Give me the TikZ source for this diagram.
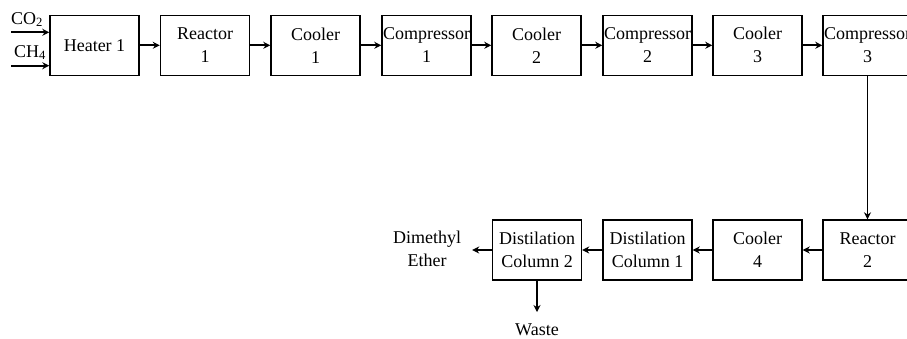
\documentclass[tikz,border=0pt]{standalone}
\usepackage{fontspec}
\setmainfont{Liberation Serif}
\usetikzlibrary{arrows.meta}
\begin{document}
\begin{tikzpicture}[x=1pt,y=-1pt,
  unit/.style={draw, line width=1.4pt, minimum width=89pt, minimum height=60pt,
    inner sep=0pt, align=center, font=\fontsize{18}{23}\selectfont},
  flow/.style={line width=1.8pt, -{Stealth[length=7pt,width=7pt]}},
  lbl/.style={inner sep=0pt, align=center, font=\fontsize{18}{23}\selectfont}]
\useasboundingbox (0,0) rectangle (907,338);

% upstream train
\node[unit] (heater)   at (94.5,45.3)  {Heater 1};
\node[unit] (reactor1) at (205,45.3)   {Reactor\\1};
\node[unit] (cooler1)  at (315.5,45.3) {Cooler\\1};
\node[unit] (comp1)    at (426.5,45.3) {Compressor\\1};
\node[unit] (cooler2)  at (536.5,45.3) {Cooler\\2};
\node[unit] (comp2)    at (647.5,45.3) {Compressor\\2};
\node[unit] (cooler3)  at (757.5,45.3) {Cooler\\3};
\node[unit] (comp3)    at (867.5,45.3) {Compressor\\3};

% downstream train
\node[unit] (reactor2) at (867.5,250) {Reactor\\2};
\node[unit] (cooler4)  at (757.5,250) {Cooler\\4};
\node[unit] (dist1)    at (647.5,250) {Distilation\\Column 1};
\node[unit] (dist2)    at (537,250)   {Distilation\\Column 2};

% feeds and products
\node[lbl, anchor=base west] (co2) at (11,24) {CO\textsubscript{2}};
\node[lbl, anchor=base west] (ch4) at (14,57) {CH\textsubscript{4}};
\coordinate (co2src) at (11,32.3);
\coordinate (ch4src) at (11,65.7);
\node[lbl, inner xsep=11pt] (dme) at (427,249) {Dimethyl\\Ether};
\node[lbl, anchor=base, inner ysep=11pt] (waste) at (537,335) {Waste};

% streams
\draw[flow] (co2src) -- (co2src -| heater.west);
\draw[flow] (ch4src) -- (ch4src -| heater.west);
\draw[flow] (heater) -- (reactor1);
\draw[flow] (reactor1) -- (cooler1);
\draw[flow] (cooler1) -- (comp1);
\draw[flow] (comp1) -- (cooler2);
\draw[flow] (cooler2) -- (comp2);
\draw[flow] (comp2) -- (cooler3);
\draw[flow] (cooler3) -- (comp3);
\draw[flow] (comp3) -- (reactor2);
\draw[flow] (reactor2) -- (cooler4);
\draw[flow] (cooler4) -- (dist1);
\draw[flow] (dist1) -- (dist2);
\draw[flow] (dist2) -- (dist2 -| dme.east);
\draw[flow] (dist2) -- (waste);
\end{tikzpicture}
\end{document}
